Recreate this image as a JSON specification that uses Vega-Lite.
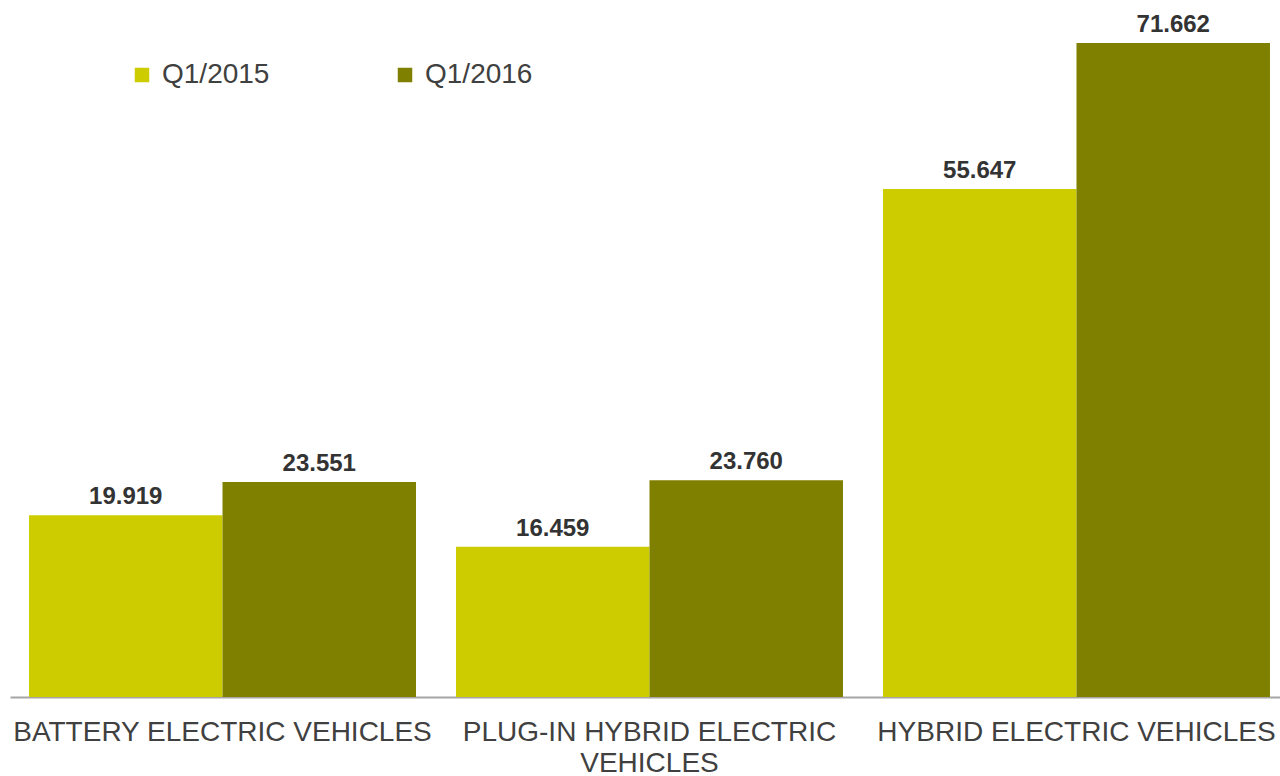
{
  "$schema": "https://vega.github.io/schema/vega-lite/v6.json",
  "width": 1270,
  "height": 690,
  "autosize": {"type": "none"},
  "padding": {"left": 10, "top": 7, "right": 0, "bottom": 79},
  "config": {
    "view": {"stroke": null},
    "font": "Liberation Sans",
    "locale": {"number": {"decimal": ",", "thousands": ".", "grouping": [3], "currency": ["", " €"]}}
  },
  "data": {
    "values": [
      {"category": "BATTERY ELECTRIC VEHICLES", "period": "Q1/2015", "value": 19919},
      {"category": "BATTERY ELECTRIC VEHICLES", "period": "Q1/2016", "value": 23551},
      {"category": "PLUG-IN HYBRID ELECTRIC VEHICLES", "period": "Q1/2015", "value": 16459},
      {"category": "PLUG-IN HYBRID ELECTRIC VEHICLES", "period": "Q1/2016", "value": 23760},
      {"category": "HYBRID ELECTRIC VEHICLES", "period": "Q1/2015", "value": 55647},
      {"category": "HYBRID ELECTRIC VEHICLES", "period": "Q1/2016", "value": 71662}
    ]
  },
  "encoding": {
    "x": {
      "field": "category",
      "type": "nominal",
      "sort": null,
      "scale": {"paddingInner": 0.0937, "paddingOuter": 0.034, "align": 0.655},
      "axis": {
        "title": null,
        "domain": true,
        "domainColor": "#a6a6a6",
        "domainWidth": 2,
        "ticks": false,
        "labelAngle": 0,
        "labelFontSize": 28,
        "labelColor": "#404040",
        "labelPadding": 21,
        "labelLineHeight": 31,
        "labelLimit": 0,
        "labelExpr": "datum.label == 'PLUG-IN HYBRID ELECTRIC VEHICLES' ? ['PLUG-IN HYBRID ELECTRIC', 'VEHICLES'] : datum.label"
      }
    },
    "xOffset": {"field": "period", "type": "nominal", "sort": ["Q1/2015", "Q1/2016"]},
    "y": {"field": "value", "type": "quantitative", "scale": {"domain": [0, 75600]}, "axis": null}
  },
  "layer": [
    {
      "mark": {"type": "bar"},
      "encoding": {
        "color": {
          "field": "period",
          "type": "nominal",
          "scale": {"domain": ["Q1/2015", "Q1/2016"], "range": ["#cccc00", "#808000"]},
          "legend": {
            "orient": "none",
            "legendX": 118,
            "legendY": 54,
            "direction": "horizontal",
            "title": null,
            "symbolType": "square",
            "symbolSize": 210,
            "symbolStrokeWidth": 0,
            "labelFontSize": 28,
            "labelColor": "#404040",
            "labelOffset": 6,
            "columnPadding": 121,
            "padding": 0
          }
        }
      }
    },
    {
      "mark": {"type": "text", "baseline": "alphabetic", "dy": -11, "fontSize": 24, "fontWeight": "bold", "color": "#333333"},
      "encoding": {"text": {"field": "value", "type": "quantitative", "format": ",d"}}
    }
  ]
}
